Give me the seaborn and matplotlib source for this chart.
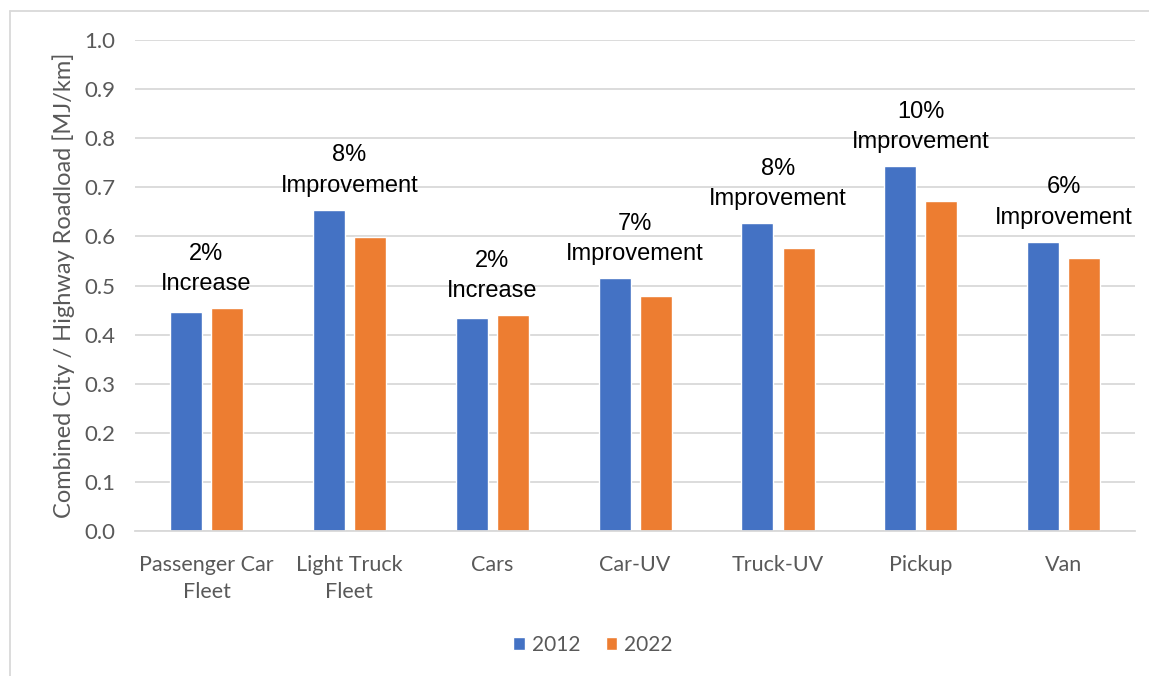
import pandas as pd
import matplotlib
matplotlib.use("Agg")
import matplotlib.pyplot as plt
import seaborn as sns
from matplotlib.lines import Line2D

# values
categories = ["Passenger Car\nFleet", "Light Truck\nFleet", "Cars", "Car-UV",
              "Truck-UV", "Pickup", "Van"]
years = ["2012", "2022"]
roadload_2012 = [0.446, 0.654, 0.434, 0.515, 0.627, 0.743, 0.589]
roadload_2022 = [0.454, 0.599, 0.440, 0.479, 0.576, 0.672, 0.556]
change_labels = ["2%\nIncrease", "8%\nImprovement", "2%\nIncrease", "7%\nImprovement",
                 "8%\nImprovement", "10%\nImprovement", "6%\nImprovement"]
y_ticks = [0.0, 0.1, 0.2, 0.3, 0.4, 0.5, 0.6, 0.7, 0.8, 0.9, 1.0]

df = pd.DataFrame({
    "Category": categories * 2,
    "Year": [years[0]] * len(categories) + [years[1]] * len(categories),
    "Roadload": roadload_2012 + roadload_2022,
})

sns.set_style("white")
plt.rcParams["font.family"] = ["Lato", "DejaVu Sans"]

fig, ax = plt.subplots(figsize=(11.49, 6.76), dpi=100)
fig.subplots_adjust(left=0.1175, right=0.988, top=0.941, bottom=0.214)

sns.barplot(data=df, x="Category", y="Roadload", hue="Year", order=categories,
            hue_order=years, palette=["#4472C4", "#ED7D31"], saturation=1,
            width=0.575, gap=0.22, ax=ax, legend=True)

ax.set_ylim(0, 1.0)
ax.set_yticks(y_ticks)
ax.set_yticklabels([f"{t:.1f}" for t in y_ticks])
ax.yaxis.grid(True, color="#D9D9D9", linewidth=1.3)
ax.set_axisbelow(True)
for s in ["top", "right", "left"]:
    ax.spines[s].set_visible(False)
ax.spines["bottom"].set_color("#D9D9D9")
ax.spines["bottom"].set_linewidth(1.3)
ax.tick_params(axis="both", length=0, colors="#595959")
ax.tick_params(axis="x", labelsize=15.5, pad=17)
ax.tick_params(axis="y", labelsize=16, pad=14)
for lab in ax.get_xticklabels():
    lab.set_linespacing(1.45)
ax.set_xlabel("")
ax.set_ylabel("Combined City / Highway Roadload [MJ/km]", fontsize=17, color="#595959",
              labelpad=7)

# change annotations above the tallest bar of each group
for i, lab in enumerate(change_labels):
    top = max(roadload_2012[i], roadload_2022[i])
    ax.annotate(lab, xy=(i, top), xytext=(0, 13), textcoords="offset points",
                ha="center", va="baseline", fontsize=17, family="Liberation Sans",
                linespacing=1.5, color="black")

leg = ax.legend(loc="upper center", bbox_to_anchor=(0.458, -0.172), ncol=2, frameon=False,
                fontsize=15, handlelength=0.55, handleheight=0.55, columnspacing=1.2,
                handletextpad=0.35)
for t in leg.get_texts():
    t.set_color("#595959")

# outer chart border (left and top edges visible)
fig.add_artist(Line2D([10 / 1149, 10 / 1149], [0, 1 - 11 / 676], color="#D9D9D9", lw=1.3))
fig.add_artist(Line2D([10 / 1149, 1], [1 - 11 / 676, 1 - 11 / 676], color="#D9D9D9", lw=1.3))

fig.savefig("out.png", dpi=100)
